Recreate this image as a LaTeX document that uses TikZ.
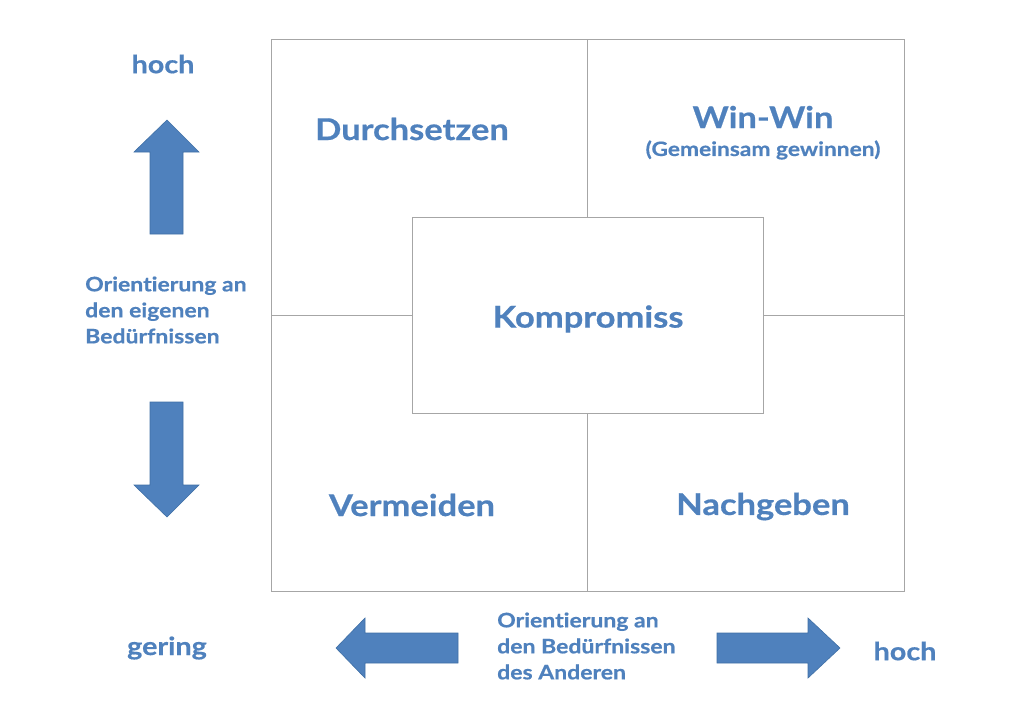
\documentclass[tikz,border=0pt]{standalone}
\usepackage{fontspec}
\setmainfont{Lato}[FakeStretch=1.15,Ligatures=NoCommon,BoldFeatures={FakeBold=0.6}]
\definecolor{tblue}{HTML}{4F81BD}
\definecolor{aborder}{HTML}{3F6FA5}
\definecolor{gline}{HTML}{A6A6A6}
\begin{document}
\begin{tikzpicture}[x=1pt,y=-1pt,
  gridline/.style={draw=gline,line width=0.9pt},
  fatarrow/.style={fill=tblue,draw=aborder,line width=0.6pt,line join=miter},
  lbl/.style={text=tblue,font=\bfseries,inner sep=0pt},
  big/.style={lbl,font=\bfseries\fontsize{30}{34}\selectfont},
  small/.style={lbl,font=\bfseries\fontsize{20}{26}\selectfont,align=left},
  mid/.style={lbl,font=\bfseries\fontsize{25}{28}\selectfont}]
\useasboundingbox (0,0) rectangle (1024,724);
% grid
\node[gridline,draw,minimum width=633pt,minimum height=552pt,inner sep=0pt,anchor=north west] (frame) at (271,39) {};
\coordinate (ntop) at (587,39);
\coordinate (nbot) at (587,591);
\coordinate (wl) at (271,315);
\coordinate (wr) at (904,315);
\node[gridline,draw,fill=white,minimum width=351pt,minimum height=196pt,inner sep=0pt,anchor=north west] (center) at (412,217) {};
\draw[gridline] (ntop) -- (center.north -| ntop);
\draw[gridline] (center.south -| nbot) -- (nbot);
\draw[gridline] (wl) -- (center.west |- wl);
\draw[gridline] (center.east |- wr) -- (wr);
% labels
\node[big] (durch) at (412,129) {Durchsetzen};
\node[big] (win) at (763,117) {Win-Win};
\node[lbl,font=\bfseries\fontsize{19.8}{24}\selectfont] (gem) at (763,150) {(Gemeinsam gewinnen)};
\node[big] (komp) at (588,319) {Kompromiss};
\node[big] (verm) at (412,505) {Vermeiden};
\node[big] (nach) at (763,506.5) {Nachgeben};
\node[mid] (hoch1) at (163,64) {hoch};
\node[mid] (gering) at (167,648) {gering};
\node[mid] (hoch2) at (905,651) {hoch};
\node[small,anchor=west] (eigen) at (85,310) {Orientierung an\\den eigenen\\Bedürfnissen};
\node[small,anchor=west] (ander) at (497,646) {Orientierung an\\den Bedürfnissen\\des Anderen};
% arrows
\draw[fatarrow] (167,120) -- (199,152) -- (183,152) -- (183,234) -- (150,234) -- (150,152) -- (134,152) -- cycle;
\draw[fatarrow] (167,517) -- (199,485) -- (183,485) -- (183,402) -- (150,402) -- (150,485) -- (134,485) -- cycle;
\draw[fatarrow] (336,648) -- (365,618) -- (365,633) -- (458,633) -- (458,663) -- (365,663) -- (365,678) -- cycle;
\draw[fatarrow] (840,648) -- (808,618) -- (808,633) -- (717,633) -- (717,663) -- (808,663) -- (808,678) -- cycle;
\end{tikzpicture}
\end{document}
